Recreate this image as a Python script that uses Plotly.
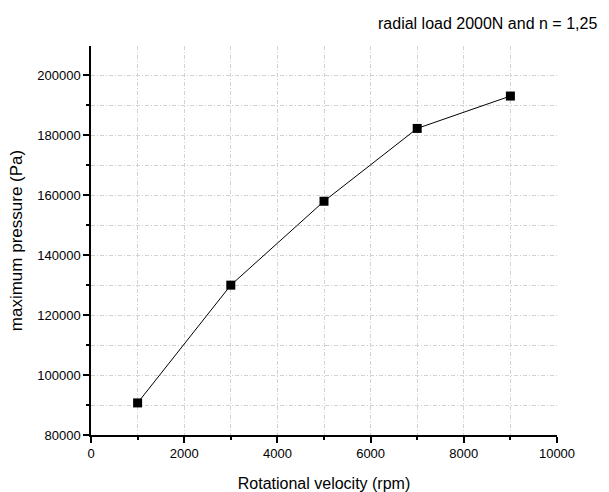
import plotly.graph_objects as go

rpm = [1000, 3000, 5000, 7000, 9000]
pressure = [90700, 130000, 158000, 182300, 193100]

title_text = "radial load 2000N and n = 1,25"
x_title = "Rotational velocity (rpm)"
y_title = "maximum pressure (Pa)"

font_family = "Liberation Sans, Arial, sans-serif"
grid_color = "#d2d2d2"
grid_dash = "4px,2px,1px,2px"

fig = go.Figure()
fig.add_trace(go.Scatter(
    x=rpm, y=pressure, mode="lines+markers",
    line=dict(color="black", width=1),
    marker=dict(symbol="square", size=9, color="black"),
    showlegend=False,
))

fig.update_layout(
    width=609, height=492,
    margin=dict(l=91, r=52, t=46, b=57),
    paper_bgcolor="white", plot_bgcolor="white",
    font=dict(family=font_family, color="black", size=13),
    annotations=[dict(
        text=title_text, xref="paper", yref="paper",
        x=1.09, y=1.0, xanchor="right", yanchor="bottom", yshift=12,
        showarrow=False, font=dict(size=16, family=font_family, color="black"),
    )],
)

fig.update_xaxes(
    range=[0, 10000], tickmode="linear", tick0=0, dtick=2000, tickformat="d",
    automargin=False,
    showline=True, linecolor="black", linewidth=1.5,
    ticks="outside", ticklen=6, tickwidth=1.5, tickcolor="black",
    ticklabelstandoff=0,
    showgrid=True, gridcolor=grid_color, gridwidth=1, griddash=grid_dash,
    zeroline=False,
    minor=dict(dtick=1000, ticks="outside", ticklen=3, tickwidth=1.5, tickcolor="black",
               showgrid=True, gridcolor=grid_color, gridwidth=1, griddash=grid_dash),
    title=dict(text=x_title, font=dict(size=16), standoff=20),
    tickfont=dict(size=13),
)
fig.update_yaxes(
    range=[80000, 209800], tickmode="linear", tick0=80000, dtick=20000, tickformat="d",
    automargin=False,
    showline=True, linecolor="black", linewidth=1.5,
    ticks="outside", ticklen=6, tickwidth=1.5, tickcolor="black",
    showgrid=True, gridcolor=grid_color, gridwidth=1, griddash=grid_dash,
    zeroline=False,
    minor=dict(dtick=10000, ticks="outside", ticklen=3, tickwidth=1.5, tickcolor="black",
               showgrid=True, gridcolor=grid_color, gridwidth=1, griddash=grid_dash),
    title=dict(text=y_title, font=dict(size=17), standoff=10),
    tickfont=dict(size=13),
)

fig.write_html("out.html")
